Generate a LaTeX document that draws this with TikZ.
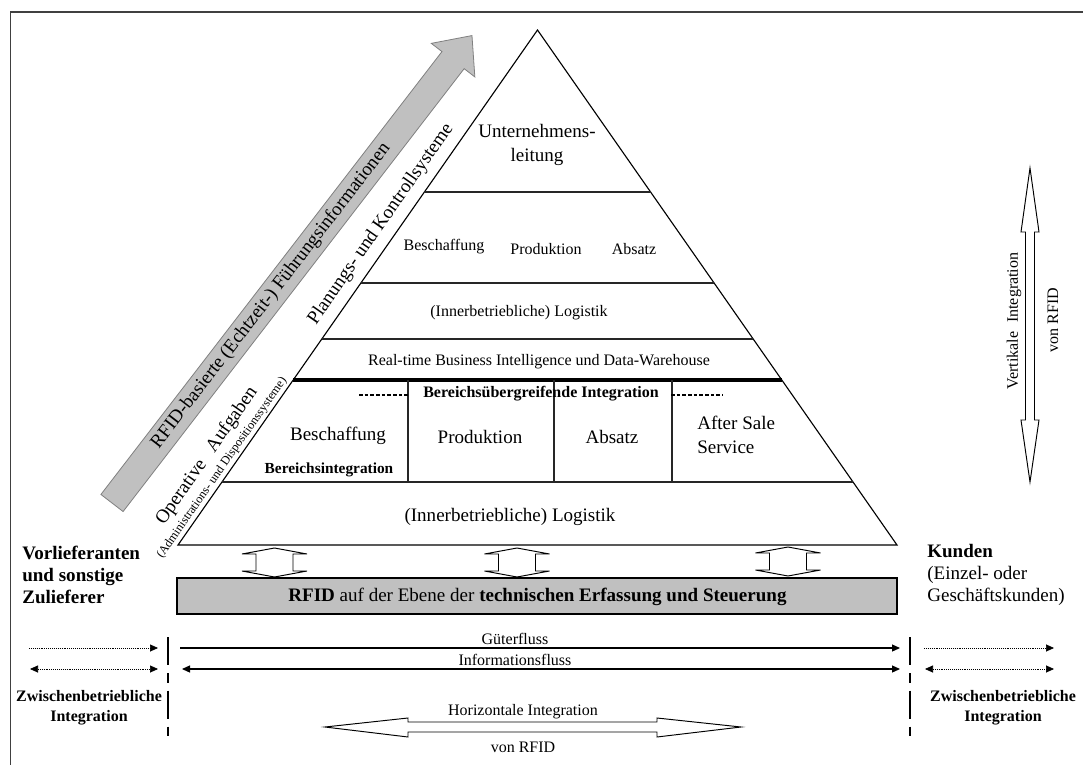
\documentclass[tikz,border=0pt]{standalone}
\usepackage{fontspec}
\setmainfont{Liberation Serif}
\usetikzlibrary{arrows.meta}
\definecolor{panelgray}{HTML}{C0C0C0}
\definecolor{framegray}{HTML}{404040}
\tikzset{
  vdouble/.pic={\draw[hollow] (0,-14) -- (32.5,-8) -- (18.5,-8) -- (18.5,9) -- (32.5,9)
      -- (0,15) -- (-32.5,9) -- (-18.5,9) -- (-18.5,-8) -- (-32.5,-8) -- cycle;}
}
\begin{document}
\begin{tikzpicture}[x=0.625pt,y=-0.625pt,
  fBig/.style={font=\fontsize{11.9}{15}\selectfont, inner sep=0pt},
  fBigB/.style={font=\fontsize{11.9}{14}\selectfont\bfseries, inner sep=0pt},
  fMid/.style={font=\fontsize{10}{12.5}\selectfont, inner sep=0pt},
  fMidB/.style={font=\fontsize{10}{12.5}\selectfont\bfseries, inner sep=0pt},
  fSmall/.style={font=\fontsize{7.7}{9}\selectfont, inner sep=0pt},
  pyrline/.style={line width=0.7pt, line join=miter},
  tierline/.style={line width=0.8pt, draw=black!85},
  hollow/.style={draw, line width=0.6pt, fill=white, line join=miter},
  flowline/.style={line width=0.7pt},
  headR/.style={-{Triangle[length=5pt,width=4.4pt]}},
  headLR/.style={{Triangle[length=5pt,width=4.4pt]}-{Triangle[length=5pt,width=4.4pt]}},
  dotline/.style={line width=0.45pt, dash pattern=on 0.45pt off 0.75pt},
  partition/.style={line width=1pt, dash pattern=on 17.5pt off 5pt on 6pt off 5pt},
  hyphens/.style={line width=0.8pt, dash pattern=on 2.2pt off 1.35pt}
]
\useasboundingbox (0,0) rectangle (1083,765);

% outer frame (left and top edges)
\draw[line width=0.8pt, framegray] (10.5,765) -- (10.5,12) -- (1083,12);

% grey upward arrow
\begin{scope}[shift={(112,503)}, rotate=52.4]
  \draw[fill=panelgray, draw=black!50, line width=0.5pt, line join=miter]
    (0,-14) -- (559,-14) -- (559,-27.5) -- (590,0) -- (559,27.5) -- (559,14) -- (0,14) -- cycle;
\end{scope}
\node[fBig, rotate=52.4] (rfidarrow) at (271,296) {RFID-basierte (Echtzeit-) Führungsinformationen};

% pyramid
\coordinate (BL) at (178,545);
\coordinate (AP) at (537.5,30);
\coordinate (BR) at (897,545);
\draw[pyrline] (BL) -- (AP) -- (BR) -- cycle;
\draw[tierline] (424.4,192) -- (650.6,192);
\draw[tierline] (360.9,283) -- (714.1,283);
\draw[tierline] (321.8,339) -- (753.2,339);
\draw[line width=1.9pt] (293.2,380) -- (781.8,380);
\draw[tierline] (222,482) -- (853,482);
\draw[tierline] (408,380) -- (408,482);
\draw[tierline] (554,380) -- (554,482);
\draw[tierline] (672,380) -- (672,482);
\draw[hyphens] (359,395) -- (410,395);
\draw[hyphens] (671,395) -- (723,395);

% pyramid labels
\node[fBig, align=center] (leitung) at (537,145) {Unternehmens-\\leitung};
\node[fMid] (besch2) at (444,247) {Beschaffung};
\node[fMid] (prod2) at (546,249) {Produktion};
\node[fMid] (abs2) at (634,249) {Absatz};
\node[fMid] (log2) at (519,313) {(Innerbetriebliche) Logistik};
\node[fMid] (rtbi) at (539,362) {Real-time Business Intelligence und Data-Warehouse};
\node[fMidB] (bui) at (541,394) {Bereichsübergreifende Integration};
\node[fBig] (besch1) at (338,436) {Beschaffung};
\node[font=\fontsize{9.6}{11}\selectfont\bfseries, inner sep=0pt] (bint) at (329,470) {Bereichsintegration};
\node[fBig] (prod1) at (480,437) {Produktion};
\node[fBig] (abs1) at (612,437) {Absatz};
\node[fBig, align=left, anchor=west] (after) at (697,435) {After Sale\\Service};
\node[fBig] (log1) at (510,517) {(Innerbetriebliche) Logistik};

% labels along the left flank
\node[fBig, rotate=55.1] (plan) at (381,224) {Planungs- und Kontrollsysteme};
\node[fBig, rotate=55.1] (oper) at (207,456) {Operative\hspace{0.45em} Aufgaben};
\node[fSmall, rotate=55.1] (admin) at (222,468) {(Administrations- und Dispositionssysteme)};

% links between pyramid and RFID layer
\pic at (274.5,562) {vdouble};
\pic at (517,562) {vdouble};
\pic at (788,561) {vdouble};

% RFID layer
\draw[fill=panelgray, line width=0.7pt] (177,578) rectangle (897,614);
\node[fBig] (rfid) at (537.5,597) {\textbf{RFID} auf der Ebene der \textbf{technischen Erfassung und Steuerung}};

% partners
\node[fBigB, align=left, anchor=west] (suppl) at (22,575) {Vorlieferanten\\und sonstige\\Zulieferer};
\node[font=\fontsize{11.9}{14}\selectfont, inner sep=0pt, align=left, anchor=west] (cust) at (927,575)
  {\textbf{Kunden}\\(Einzel- oder\\Geschäftskunden)};

% flows
\coordinate (gA) at (180,648);  \coordinate (gB) at (900,648);
\coordinate (iA) at (182,669);  \coordinate (iB) at (900,669);
\draw[flowline, headR] (gA) -- (gB);
\draw[flowline, headLR] (iA) -- (iB);
\node[fMid, anchor=base] (gfl) at (515,644) {Güterfluss};
\node[fMid, anchor=base] (ifl) at (515,665.5) {Informationsfluss};

\coordinate (lgA) at (29,648);  \coordinate (lgB) at (158,648);
\coordinate (liA) at (30,669);  \coordinate (liB) at (158,669);
\coordinate (rgA) at (924,648); \coordinate (rgB) at (1054,648);
\coordinate (riA) at (925,669); \coordinate (riB) at (1054,669);
\draw[dotline, headR] (lgA) -- (lgB);
\draw[dotline, headLR] (liA) -- (liB);
\draw[dotline, headR] (rgA) -- (rgB);
\draw[dotline, headLR] (riA) -- (riB);

% company borders
\draw[partition] (168,637) -- (168,738);
\draw[partition] (910,637) -- (910,738);
\node[fMidB, align=center] (zwl) at (89,708) {Zwischenbetriebliche\\Integration};
\node[fMidB, align=center] (zwr) at (1003,708) {Zwischenbetriebliche\\Integration};

% horizontal integration
\draw[hollow] (325,727) -- (408,718) -- (408,722) -- (657,722) -- (657,718) -- (741,727)
  -- (657,737) -- (657,732) -- (408,732) -- (408,737) -- cycle;
\node[fMid] (hint) at (523,712) {Horizontale Integration};
\node[fMid] (hvon) at (523,747) {von RFID};

% vertical integration
\draw[hollow] (1030,168) -- (1039,232) -- (1034.5,232) -- (1034.5,420) -- (1039,420) -- (1030,482)
  -- (1021,420) -- (1025.5,420) -- (1025.5,232) -- (1021,232) -- cycle;
\node[fMid, rotate=90] (vint) at (1014,321) {Vertikale\hspace{0.3em} Integration};
\node[fMid, rotate=90] (vvon) at (1053,320) {von RFID};
\end{tikzpicture}
\end{document}
